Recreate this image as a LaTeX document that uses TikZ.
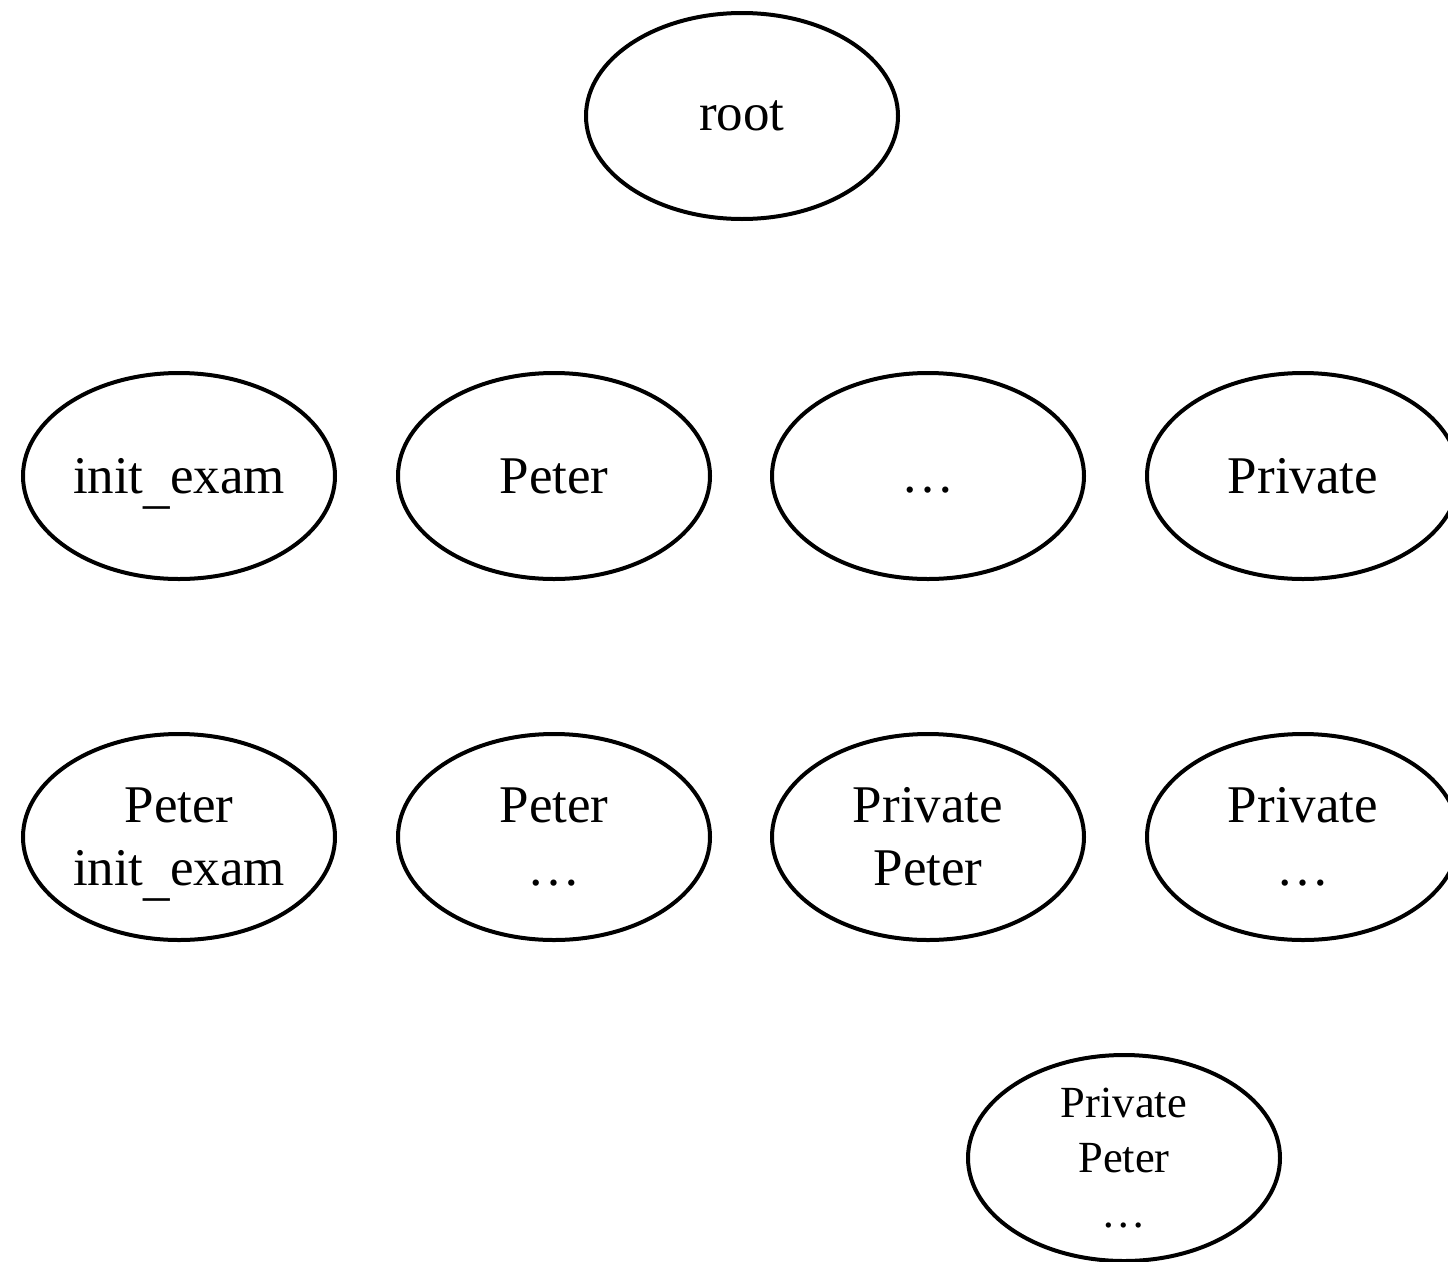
\documentclass[tikz,border=0pt]{standalone}
\usepackage{fontspec}
\setmainfont{Liberation Serif}
\usetikzlibrary{shapes.geometric}
\tikzset{
  oval/.style={ellipse, draw, line width=4pt, minimum width=312pt, minimum height=206pt,
    inner sep=0pt, align=center, font=\fontsize{53}{63}\selectfont},
  smalloval/.style={oval, font=\fontsize{44.5}{55}\selectfont}
}
% low underscore, set below the baseline without changing the line depth
\newcommand{\lowbar}{\smash{\raisebox{-0.17em}{\_}}}
\begin{document}
\begin{tikzpicture}[x=1pt,y=-1pt]
  \useasboundingbox (0,0) rectangle (1448,1261);
  \clip (0,0) rectangle (1448,1261);
  \node[oval] (root) at (742,116) {root};
  \node[oval] (a1) at (179,476) {init\lowbar exam};
  \node[oval] (a2) at (554,476) {Peter};
  \node[oval] (a3) at (928,476) {\vphantom{Peter}\dots};
  \node[oval] (a4) at (1303,476) {Private};
  \node[oval] (b1) at (179,837) {Peter\\init\lowbar exam};
  \node[oval] (b2) at (554,837) {Peter\\\dots};
  \node[oval] (b3) at (928,837) {Private\\Peter};
  \node[oval] (b4) at (1303,837) {Private\\\dots};
  \node[smalloval] (c1) at (1124,1158) {Private\\Peter\\\dots};
\end{tikzpicture}
\end{document}
